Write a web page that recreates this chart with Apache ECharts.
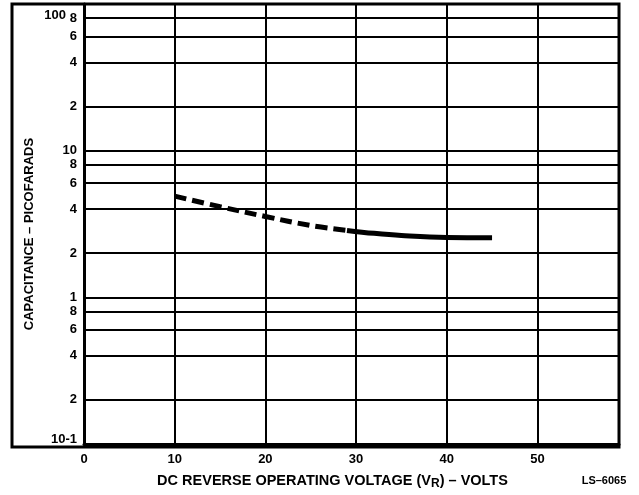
<!DOCTYPE html>
<html>
<head>
<meta charset="utf-8">
<script src="https://cdn.jsdelivr.net/npm/echarts@6/dist/echarts.min.js"></script>
<style>
html,body{margin:0;padding:0;background:#fff;}
#c{width:639px;height:495px;}
</style>
</head>
<body>
<div id="c"></div>
<script>
// ---- data ----
const xTicks = [0, 10, 20, 30, 40, 50];
const yTickValues = [0.1, 0.2, 0.4, 0.6, 0.8, 1, 2, 4, 6, 8, 10, 20, 40, 60, 80, 100];
const yTickLabels = ['10-1', '2', '4', '6', '8', '1', '2', '4', '6', '8', '10', '2', '4', '6', '8', '100'];
const dashedVolts = [10, 15, 20, 25, 29];
const dashedCap = [4.9, 4.15, 3.56, 3.09, 2.86];
const solidVolts = [29, 32, 35, 40, 45];
const solidCap = [2.86, 2.73, 2.64, 2.56, 2.55];

const FONT = 'Liberation Sans';
const chart = echarts.init(document.getElementById('c'), null, {renderer: 'canvas'});

function yLabel(v) {
  for (let i = 0; i < yTickValues.length; i++) {
    if (Math.abs(Math.log10(v) - Math.log10(yTickValues[i])) < 1e-6) {
      const t = yTickLabels[i];
      if (i === yTickValues.length - 1) return '{top|' + t + '}';
      if (i === 0) return '{bot|' + t + '}';
      return t;
    }
  }
  return '';
}

chart.setOption({
  animation: false,
  backgroundColor: '#fff',
  grid: {left: 84, right: 20, top: 4, bottom: 48, show: false},
  xAxis: {
    type: 'value', min: 0, max: 59, interval: 10,
    axisLine: {show: true, lineStyle: {color: '#000', width: 3}},
    axisTick: {show: false},
    splitLine: {show: true, lineStyle: {color: '#000', width: 2}},
    axisLabel: {
      color: '#000', fontFamily: FONT, fontWeight: 'bold', fontSize: 13, margin: 9,
      showMaxLabel: true,
      formatter: v => (xTicks.indexOf(v) >= 0 ? String(v) : '')
    },
    name: 'DC REVERSE OPERATING VOLTAGE (V{sub|R}) – VOLTS',
    nameLocation: 'middle', nameGap: 28,
    nameTextStyle: {
      color: '#000', fontFamily: FONT, fontWeight: 'bold', fontSize: 14.5,
      padding: [0, 38, 0, 0],
      rich: {sub: {fontFamily: FONT, fontWeight: 'bold', fontSize: 12, padding: [6, 0, 0, 0], color: '#000'}}
    }
  },
  yAxis: {
    type: 'log', logBase: 10, min: 0.1, max: 100,
    axisLine: {show: true, lineStyle: {color: '#000', width: 3}},
    axisTick: {show: false, customValues: yTickValues},
    splitLine: {show: true, lineStyle: {color: '#000', width: 2}},
    minorSplitLine: {show: false},
    axisLabel: {
      customValues: yTickValues,
      color: '#000', fontFamily: FONT, fontWeight: 'bold', fontSize: 13, margin: 7,
      formatter: yLabel,
      rich: {
        top: {fontFamily: FONT, fontWeight: 'bold', fontSize: 13, color: '#000', padding: [22, 11, 0, 0]},
        bot: {fontFamily: FONT, fontWeight: 'bold', fontSize: 13, color: '#000', padding: [0, 0, 9, 0]}
      }
    }
  },
  graphic: [
    {type: 'rect', shape: {x: 12, y: 4, width: 607, height: 443}, style: {fill: 'none', stroke: '#000', lineWidth: 3}, z: 100, silent: true},
    {type: 'text', x: 29, y: 234, rotation: Math.PI / 2,
      style: {text: 'CAPACITANCE – PICOFARADS', fill: '#000', font: 'bold 13px "Liberation Sans"', textAlign: 'center', textVerticalAlign: 'middle'}},
    {type: 'text', x: 604, y: 481,
      style: {text: 'LS–6065', fill: '#000', font: 'bold 11px "Liberation Sans"', textAlign: 'center', textVerticalAlign: 'middle'}}
  ],
  series: [
    {
      type: 'line', smooth: 0.4, showSymbol: false,
      data: dashedVolts.map((v, i) => [v, dashedCap[i]]),
      lineStyle: {color: '#000', width: 5, type: [12, 6]}
    },
    {
      type: 'line', smooth: 0.4, showSymbol: false,
      data: solidVolts.map((v, i) => [v, solidCap[i]]),
      lineStyle: {color: '#000', width: 5, type: 'solid'}
    }
  ]
});
</script>
</body>
</html>
